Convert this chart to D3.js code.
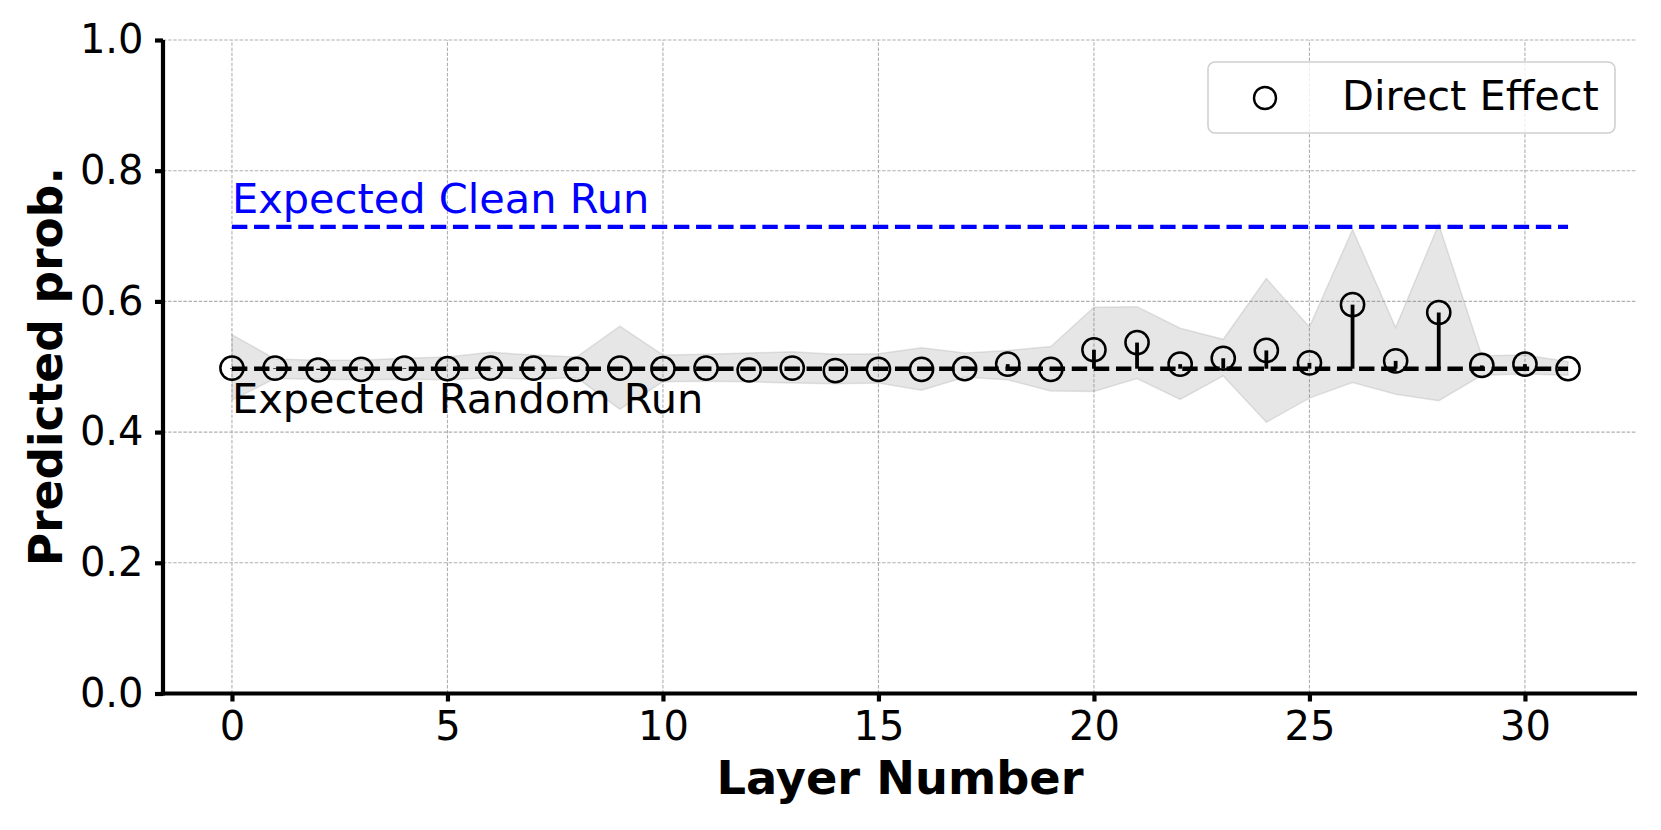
<!DOCTYPE html>
<html lang="en">
<head>
	<meta charset="UTF-8">
	<title>direct effect per layer</title>
	<style>
		* {
			margin: 0;
			padding: 0;
		}
		body {
			background: #fff;
		}
		svg {
			display: block;
			font-family: "DejaVu Sans", sans-serif;
		}
	</style>
</head>
<body>
	<script src="https://cdn.jsdelivr.net/npm/d3@7"></script>
	<script>
		// layers on the x axis
		var layers = [0, 1, 2, 3, 4, 5, 6, 7, 8, 9, 10, 11, 12, 13, 14, 15,
			16, 17, 18, 19, 20, 21, 22, 23, 24, 25, 26, 27, 28, 29, 30, 31];
		// direct effect (circles)
		var directEffect = [0.498, 0.498, 0.495, 0.496, 0.498, 0.497, 0.498, 0.498,
			0.496, 0.498, 0.497, 0.498, 0.495, 0.498, 0.494, 0.496,
			0.496, 0.497, 0.504, 0.496, 0.526, 0.537, 0.504, 0.513,
			0.525, 0.506, 0.595, 0.509, 0.583, 0.502, 0.504, 0.497];
		// grey band
		var bandUpper = [0.549, 0.512, 0.510, 0.510, 0.513, 0.515, 0.522, 0.518,
			0.515, 0.562, 0.518, 0.519, 0.521, 0.523, 0.519, 0.520,
			0.529, 0.521, 0.525, 0.531, 0.591, 0.592, 0.559, 0.542,
			0.635, 0.561, 0.710, 0.560, 0.718, 0.517, 0.518, 0.508];
		var bandLower = [0.449, 0.482, 0.481, 0.480, 0.481, 0.480, 0.483, 0.481,
			0.483, 0.435, 0.477, 0.478, 0.477, 0.475, 0.474, 0.475,
			0.464, 0.484, 0.480, 0.463, 0.462, 0.482, 0.450, 0.486,
			0.415, 0.452, 0.476, 0.458, 0.448, 0.487, 0.489, 0.487];
		var cleanProb = 0.714;
		var randomProb = 0.497;
		var xTicks = [0, 5, 10, 15, 20, 25, 30];
		var yTicks = [0, 0.2, 0.4, 0.6, 0.8, 1.0];

		var width = 1661, height = 830;
		var padding = {top: 40, bottom: 136.5, left: 163, right: 24};

		var svg = d3.select('body').append('svg').attr('width', width).attr('height', height);

		var xScale = d3.scaleLinear().domain([-1.6, 32.6]).range([padding.left, width - padding.right]);
		var yScale = d3.scaleLinear().domain([0, 1]).range([height - padding.bottom, padding.top]);

		// 网格
		var grid = svg.append('g');
		grid.selectAll('.gx')
			.data(xTicks)
			.enter()
			.append('line')
			.attr('x1', function (d) {return xScale(d)})
			.attr('x2', function (d) {return xScale(d)})
			.attr('y1', yScale(0))
			.attr('y2', yScale(1))
			.style('stroke', '#b0b0b0')
			.style('stroke-width', 1.1)
			.style('stroke-dasharray', '3.5,1.6');
		grid.selectAll('.gy')
			.data(yTicks)
			.enter()
			.append('line')
			.attr('x1', xScale.range()[0])
			.attr('x2', xScale.range()[1])
			.attr('y1', function (d) {return yScale(d)})
			.attr('y2', function (d) {return yScale(d)})
			.style('stroke', '#b0b0b0')
			.style('stroke-width', 1.1)
			.style('stroke-dasharray', '3.5,1.6');

		// 阴影区域
		var area = d3.area()
			.x(function (d) {return xScale(d)})
			.y0(function (d, i) {return yScale(bandLower[i])})
			.y1(function (d, i) {return yScale(bandUpper[i])});
		svg.append('path')
			.datum(layers)
			.attr('d', area)
			.style('fill', '#808080')
			.style('fill-opacity', 0.2)
			.style('stroke', '#808080')
			.style('stroke-opacity', 0.2)
			.style('stroke-width', 1.5);

		// expected lines
		svg.append('line')
			.attr('x1', xScale(layers[0]))
			.attr('x2', xScale(layers[layers.length - 1]))
			.attr('y1', yScale(cleanProb))
			.attr('y2', yScale(cleanProb))
			.style('stroke', '#0000ff')
			.style('stroke-width', 4.2)
			.style('stroke-dasharray', '15.4,6.7');
		svg.append('line')
			.attr('x1', xScale(layers[0]))
			.attr('x2', xScale(layers[layers.length - 1]))
			.attr('y1', yScale(randomProb))
			.attr('y2', yScale(randomProb))
			.style('stroke', '#000')
			.style('stroke-width', 4.4)
			.style('stroke-dasharray', '15.4,6.7');

		svg.append('text')
			.attr('x', xScale(layers[0]))
			.attr('y', yScale(cleanProb + 0.021))
			.style('font-size', '41.5px')
			.style('fill', '#0000ff')
			.text('Expected Clean Run');
		svg.append('text')
			.attr('x', xScale(layers[0]))
			.attr('y', yScale(randomProb - 0.068))
			.style('font-size', '41.5px')
			.style('fill', '#000')
			.text('Expected Random Run');

		// stems
		svg.selectAll('.stem')
			.data(layers)
			.enter()
			.append('line')
			.classed('stem', true)
			.attr('x1', function (d) {return xScale(d)})
			.attr('x2', function (d) {return xScale(d)})
			.attr('y1', yScale(randomProb))
			.attr('y2', function (d, i) {return yScale(directEffect[i])})
			.style('stroke', '#000')
			.style('stroke-width', 3.8);

		// 点
		svg.selectAll('.plot')
			.data(layers)
			.enter()
			.append('circle')
			.classed('plot', true)
			.attr('cx', function (d) {return xScale(d)})
			.attr('cy', function (d, i) {return yScale(directEffect[i])})
			.attr('r', 11.6)
			.style('fill', 'none')
			.style('stroke', '#000')
			.style('stroke-width', 2.5);

		// x轴
		var xAxis = svg.append('g')
			.attr('transform', 'translate(0,' + yScale(0) + ')')
			.call(d3.axisBottom(xScale).tickValues(xTicks).tickSize(8).tickSizeOuter(0).tickPadding(10));
		// y轴
		var yAxis = svg.append('g')
			.attr('transform', 'translate(' + xScale.range()[0] + ',0)')
			.call(d3.axisLeft(yScale).tickValues(yTicks).tickFormat(d3.format('.1f')).tickSize(8).tickSizeOuter(0).tickPadding(11.5));

		[xAxis, yAxis].forEach(function (ax) {
			ax.select('.domain').style('stroke', '#000').style('stroke-width', 4.2);
			ax.selectAll('.tick line').style('stroke', '#000').style('stroke-width', 4.2);
			ax.selectAll('.tick text')
				.style('font-size', '40px')
				.style('font-family', '"DejaVu Sans", sans-serif')
				.style('fill', '#000');
		});
		// extend spines so the corner is closed
		xAxis.select('.domain').attr('d', 'M' + (xScale.range()[0] - 2.1) + ',0H' + xScale.range()[1]);
		yAxis.select('.domain').attr('d', 'M0,' + (yScale(0) + 2.1) + 'V' + yScale(1));

		// 轴标题
		svg.append('text')
			.attr('x', (xScale.range()[0] + xScale.range()[1]) / 2)
			.attr('y', 794)
			.attr('text-anchor', 'middle')
			.style('font-size', '46.3px')
			.style('font-weight', 'bold')
			.text('Layer Number');
		svg.append('text')
			.attr('transform', 'translate(62,' + (yScale(0) + yScale(1)) / 2 + ') rotate(-90)')
			.attr('text-anchor', 'middle')
			.style('font-size', '45.5px')
			.style('font-weight', 'bold')
			.text('Predicted prob.');

		// 图例
		var legend = svg.append('g').attr('transform', 'translate(1208,62)');
		legend.append('rect')
			.attr('width', 407)
			.attr('height', 71)
			.attr('rx', 7)
			.style('fill', '#fff')
			.style('fill-opacity', 0.8)
			.style('stroke', '#d0d0d0')
			.style('stroke-width', 1.6);
		legend.append('circle')
			.attr('cx', 57)
			.attr('cy', 36)
			.attr('r', 11)
			.style('fill', 'none')
			.style('stroke', '#000')
			.style('stroke-width', 2.4);
		legend.append('text')
			.attr('x', 134)
			.attr('y', 48)
			.style('font-size', '41.5px')
			.text('Direct Effect');
	</script>
</body>
</html>
